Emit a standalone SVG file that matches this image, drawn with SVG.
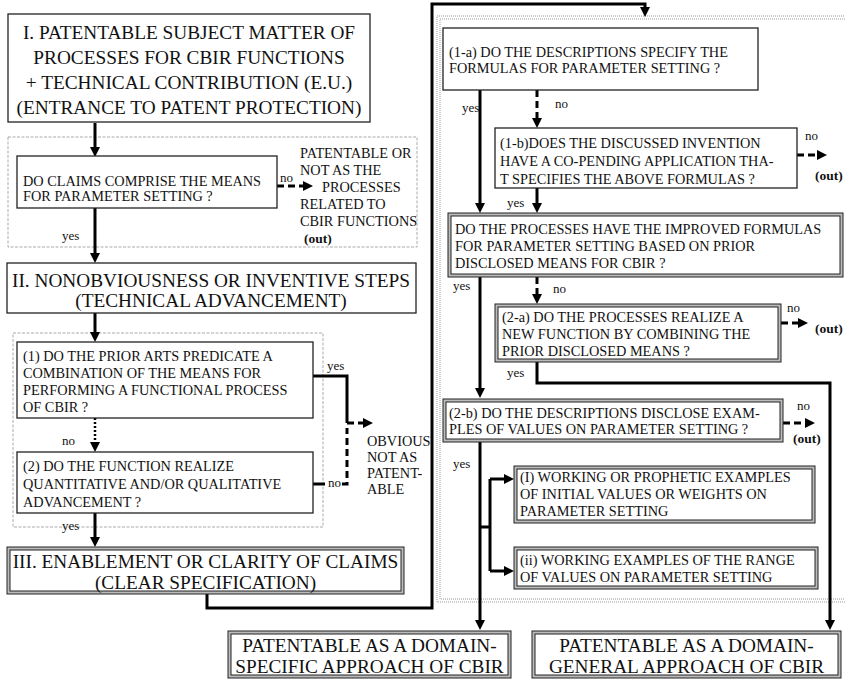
<svg xmlns="http://www.w3.org/2000/svg" width="845" height="681" viewBox="0 0 845 681">
<defs>
<marker id="ah" viewBox="0 0 10 10" refX="4" refY="5" markerWidth="10" markerHeight="10" markerUnits="userSpaceOnUse" orient="auto"><path d="M0,0 L10,5 L0,10 z" fill="#000"/></marker>
</defs>
<style>
.t{font-family:"Liberation Serif","Times New Roman",serif;fill:#111}
.big{font-size:19.3px;text-anchor:middle}
.s{font-size:14.3px}
.l{font-size:13px}
.o{font-size:13.5px;font-weight:bold}
.box{fill:#fff;stroke:#222;stroke-width:1.3}
.dbo{fill:#bbb;stroke:#222;stroke-width:1}
.dbi{fill:#fff;stroke:#222;stroke-width:1}
.c{fill:none;stroke:#000;stroke-width:3}
.d{stroke-dasharray:7 4}
.dot{stroke-dasharray:2 2;stroke-width:2.5}
.grp{fill:none;stroke:#aaa;stroke-width:1;stroke-dasharray:3 1.5}
.grp2{fill:none;stroke:#999;stroke-width:1;stroke-dasharray:1 1}
</style>
<rect width="845" height="681" fill="#fff"/>

<g id="containers">
<rect class="grp" x="8" y="137" width="409" height="110"/>
<rect class="grp" x="13" y="333" width="310" height="194"/>
<rect class="grp2" x="437" y="16" width="420" height="586"/>
<rect class="grp2" x="440" y="19" width="420" height="580"/>
</g>

<g id="connectors">
<path class="c" d="M95,123 V151" marker-end="url(#ah)"/>
<path class="c" d="M95,208 V257" marker-end="url(#ah)"/>
<path class="c d" d="M277,186 H307" marker-end="url(#ah)"/>
<path class="c" d="M95,313 V336" marker-end="url(#ah)"/>
<path class="c dot" d="M95,418 V446" marker-end="url(#ah)"/>
<path class="c" d="M313,376 H347 V423"/>
<path class="c d" d="M347,423 H367" marker-end="url(#ah)"/>
<path class="c" d="M313,484 H325"/>
<path class="c d" d="M342,484 H347 V428"/>
<path class="c" d="M95,513 V541" marker-end="url(#ah)"/>
<path class="c" d="M207,594 V608 H432 V4 H645 V11" marker-end="url(#ah)"/>
<path class="c" d="M480,90 V207" marker-end="url(#ah)"/>
<path class="c d" d="M537,90 V122" marker-end="url(#ah)"/>
<path class="c d" d="M797,155 H821" marker-end="url(#ah)"/>
<path class="c" d="M537,188 V207" marker-end="url(#ah)"/>
<path class="c" d="M480,277 V392" marker-end="url(#ah)"/>
<path class="c d" d="M537,277 V298" marker-end="url(#ah)"/>
<path class="c d" d="M781,323 H802" marker-end="url(#ah)"/>
<path class="c" d="M537,362 V383 H830 V624" marker-end="url(#ah)"/>
<path class="c" d="M480,442 V624" marker-end="url(#ah)"/>
<path class="c d" d="M783,423 H809" marker-end="url(#ah)"/>
<path class="c" d="M480,527 H490"/>
<path class="c" d="M490,479 V571"/>
<path class="c" d="M490,479 H508" marker-end="url(#ah)"/>
<path class="c" d="M490,571 H508" marker-end="url(#ah)"/>
</g>

<g id="labels" class="t">
<text class="l" x="280" y="182">no</text>
<text class="s" x="300" y="158">PATENTABLE OR</text>
<text class="s" x="300" y="175">NOT AS THE</text>
<text class="s" x="322" y="192">PROCESSES</text>
<text class="s" x="300" y="209">RELATED TO</text>
<text class="s" x="300" y="226">CBIR FUNCTIONS</text>
<text class="o" x="304" y="243">(out)</text>
<text class="l" x="62" y="240">yes</text>
<text class="l" x="327" y="370">yes</text>
<text class="l" x="62" y="445">no</text>
<text class="l" x="328" y="487">no</text>
<text class="l" x="62" y="530">yes</text>
<text class="s" x="367" y="446">OBVIOUS</text>
<text class="s" x="367" y="462">NOT AS</text>
<text class="s" x="367" y="478">PATENT-</text>
<text class="s" x="367" y="494">ABLE</text>
<text class="l" x="462" y="112">yes</text>
<text class="l" x="555" y="108">no</text>
<text class="l" x="805" y="140">no</text>
<text class="o" x="815" y="180">(out)</text>
<text class="l" x="507" y="207">yes</text>
<text class="l" x="453" y="290">yes</text>
<text class="l" x="553" y="293">no</text>
<text class="l" x="787" y="312">no</text>
<text class="o" x="815" y="333">(out)</text>
<text class="l" x="507" y="377">yes</text>
<text class="l" x="797" y="410">no</text>
<text class="o" x="793" y="443">(out)</text>
<text class="l" x="453" y="468">yes</text>
</g>

<g id="n-I">
<rect class="box" x="8" y="14" width="362" height="108"/>
<text class="t big" x="189" y="39">I. PATENTABLE SUBJECT MATTER OF</text>
<text class="t big" x="189" y="64">PROCESSES FOR CBIR FUNCTIONS</text>
<text class="t big" x="189" y="89">+ TECHNICAL CONTRIBUTION (E.U.)</text>
<text class="t big" x="189" y="114">(ENTRANCE TO PATENT PROTECTION)</text>
</g>

<g id="n-claims">
<rect class="box" x="17" y="156" width="260" height="52"/>
<text class="t s" x="23" y="186">DO CLAIMS COMPRISE THE MEANS</text>
<text class="t s" x="23" y="201">FOR PARAMETER SETTING ?</text>
</g>

<g id="n-II">
<rect class="box" x="7" y="263" width="409" height="50"/>
<text class="t big" x="211" y="287">II. NONOBVIOUSNESS OR INVENTIVE STEPS</text>
<text class="t big" x="211" y="307">(TECHNICAL ADVANCEMENT)</text>
</g>

<g id="n-1">
<rect class="box" x="17" y="342" width="296" height="76"/>
<text class="t s" x="23" y="361">(1) DO THE PRIOR ARTS PREDICATE A</text>
<text class="t s" x="23" y="378">COMBINATION OF THE MEANS FOR</text>
<text class="t s" x="23" y="395">PERFORMING A FUNCTIONAL PROCESS</text>
<text class="t s" x="23" y="412">OF CBIR ?</text>
</g>

<g id="n-2">
<rect class="box" x="17" y="452" width="296" height="61"/>
<text class="t s" x="23" y="471">(2) DO THE FUNCTION REALIZE</text>
<text class="t s" x="23" y="489">QUANTITATIVE AND/OR QUALITATIVE</text>
<text class="t s" x="23" y="507">ADVANCEMENT ?</text>
</g>

<g id="n-III">
<rect class="dbo" x="7" y="547" width="397" height="47"/>
<rect class="dbi" x="10" y="550" width="391" height="41"/>
<text class="t big" x="205.5" y="568">III. ENABLEMENT OR CLARITY OF CLAIMS</text>
<text class="t big" x="205.5" y="589">(CLEAR SPECIFICATION)</text>
</g>

<g id="n-1a">
<rect class="box" x="443" y="28" width="315" height="62"/>
<text class="t s" x="449" y="57">(1-a) DO THE DESCRIPTIONS SPECIFY THE</text>
<text class="t s" x="449" y="73">FORMULAS FOR PARAMETER SETTING ?</text>
</g>

<g id="n-1b">
<rect class="box" x="495" y="128" width="302" height="60"/>
<text class="t s" x="500" y="148">(1-b)DOES THE DISCUSSED INVENTION</text>
<text class="t s" x="500" y="166">HAVE A CO-PENDING APPLICATION THA-</text>
<text class="t s" x="500" y="184">T SPECIFIES THE ABOVE FORMULAS ?</text>
</g>

<g id="n-proc">
<rect class="dbo" x="448" y="213" width="395" height="64"/>
<rect class="dbi" x="451" y="216" width="389" height="58"/>
<text class="t s" x="455" y="234">DO THE PROCESSES HAVE THE IMPROVED FORMULAS</text>
<text class="t s" x="455" y="251">FOR PARAMETER SETTING BASED ON PRIOR</text>
<text class="t s" x="455" y="268">DISCLOSED MEANS FOR CBIR ?</text>
</g>

<g id="n-2a">
<rect class="dbo" x="495" y="304" width="286" height="58"/>
<rect class="dbi" x="498" y="307" width="280" height="52"/>
<text class="t s" x="502" y="322">(2-a) DO THE PROCESSES REALIZE A</text>
<text class="t s" x="502" y="339">NEW FUNCTION BY COMBINING THE</text>
<text class="t s" x="502" y="356">PRIOR DISCLOSED MEANS ?</text>
</g>

<g id="n-2b">
<rect class="dbo" x="443" y="399" width="340" height="43"/>
<rect class="dbi" x="446" y="402" width="334" height="37"/>
<text class="t s" x="449" y="418">(2-b) DO THE DESCRIPTIONS DISCLOSE EXAM-</text>
<text class="t s" x="449" y="434">PLES OF VALUES ON PARAMETER SETTING ?</text>
</g>

<g id="n-I-ex">
<rect class="dbo" x="514" y="466" width="301" height="57"/>
<rect class="dbi" x="517" y="469" width="295" height="51"/>
<text class="t s" x="520" y="482">(I) WORKING OR PROPHETIC EXAMPLES</text>
<text class="t s" x="520" y="499">OF INITIAL VALUES OR WEIGHTS ON</text>
<text class="t s" x="520" y="516">PARAMETER SETTING</text>
</g>

<g id="n-ii-ex">
<rect class="dbo" x="514" y="547" width="304" height="42"/>
<rect class="dbi" x="517" y="550" width="298" height="36"/>
<text class="t s" x="520" y="565">(ii) WORKING EXAMPLES OF THE RANGE</text>
<text class="t s" x="520" y="582">OF VALUES ON PARAMETER SETTING</text>
</g>

<g id="n-specific">
<rect class="dbo" x="228" y="631" width="283" height="47"/>
<rect class="dbi" x="231" y="634" width="277" height="41"/>
<text class="t big" x="369.5" y="652">PATENTABLE AS A DOMAIN-</text>
<text class="t big" x="369.5" y="673">SPECIFIC APPROACH OF CBIR</text>
</g>

<g id="n-general">
<rect class="dbo" x="532" y="631" width="309" height="47"/>
<rect class="dbi" x="535" y="634" width="303" height="41"/>
<text class="t big" x="686.5" y="652">PATENTABLE AS A DOMAIN-</text>
<text class="t big" x="686.5" y="673">GENERAL APPROACH OF CBIR</text>
</g>
</svg>
